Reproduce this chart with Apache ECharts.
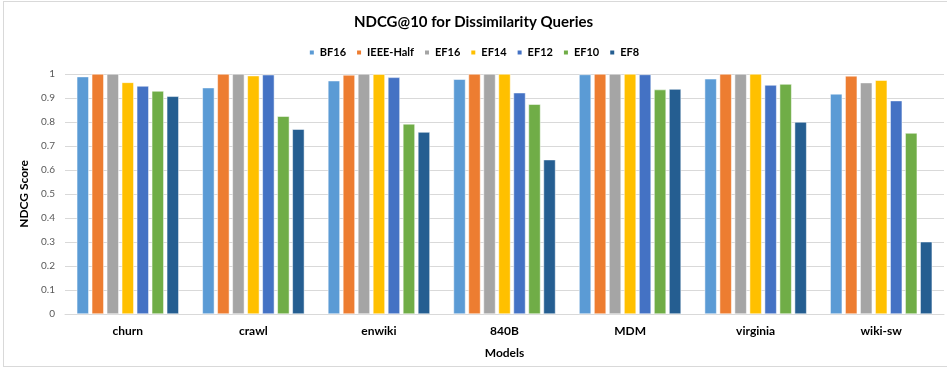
<!DOCTYPE html>
<html>
<head>
<meta charset="utf-8">
<script src="https://cdn.jsdelivr.net/npm/echarts@6/dist/echarts.min.js"></script>
<style>
  html, body { margin: 0; padding: 0; background: #fff; }
  #frame { position: absolute; left: 3px; top: 1px; width: 960px; height: 366px; border: 1px solid #d9d9d9; box-sizing: border-box; }
  #chart { position: absolute; left: 0; top: 0; width: 947px; height: 372px; }
</style>
</head>
<body>
<div id="frame"></div>
<div id="chart"></div>
<script>
const models = ['churn', 'crawl', 'enwiki', '840B', 'MDM', 'virginia', 'wiki-sw'];

const bf16     = [0.989, 0.943, 0.972, 0.978, 0.998, 0.980, 0.917];
const ieeeHalf = [1.000, 1.000, 0.996, 1.000, 1.000, 1.000, 0.992];
const ef16     = [1.000, 1.000, 1.000, 1.000, 1.000, 1.000, 0.964];
const ef14     = [0.965, 0.993, 0.999, 1.000, 1.000, 1.000, 0.974];
const ef12     = [0.950, 0.997, 0.986, 0.922, 0.998, 0.954, 0.889];
const ef10     = [0.929, 0.824, 0.792, 0.874, 0.935, 0.958, 0.754];
const ef8      = [0.907, 0.770, 0.758, 0.643, 0.937, 0.800, 0.301];

const seriesNames = ['BF16', 'IEEE-Half', 'EF16', 'EF14', 'EF12', 'EF10', 'EF8'];
const seriesData = [bf16, ieeeHalf, ef16, ef14, ef12, ef10, ef8];
const colors = ['#5B9BD5', '#ED7D31', '#A5A5A5', '#FFC000', '#4472C4', '#70AD47', '#255E91'];

const font = 'Lato, "Open Sans", sans-serif';

let myChart = echarts.init(document.getElementById('chart'));

const option = {
  animation: false,
  color: colors,
  title: {
    text: 'NDCG@10 for Dissimilarity Queries',
    left: 'center',
    top: 10,
    textStyle: { fontFamily: font, fontSize: 15, fontWeight: 'bold', color: '#000' }
  },
  legend: {
    data: seriesNames,
    top: 42,
    left: 'center',
    icon: 'rect',
    itemWidth: 6,
    itemHeight: 6,
    itemGap: 9,
    textStyle: { fontFamily: font, fontSize: 11, fontWeight: 'bold', color: '#000' }
  },
  grid: { left: 65, right: 3, top: 74, bottom: 58 },
  xAxis: {
    type: 'category',
    data: models,
    name: 'Models',
    nameLocation: 'middle',
    nameGap: 33,
    nameTextStyle: { fontFamily: font, fontSize: 12, fontWeight: 'bold', color: '#000' },
    axisLine: { lineStyle: { color: '#d9d9d9' } },
    axisTick: { show: false },
    axisLabel: { fontFamily: font, fontSize: 12, fontWeight: 'bold', color: '#000', margin: 11 }
  },
  yAxis: {
    type: 'value',
    min: 0,
    max: 1,
    interval: 0.1,
    name: 'NDCG Score',
    nameLocation: 'middle',
    nameGap: 31,
    nameTextStyle: { fontFamily: font, fontSize: 12, fontWeight: 'bold', color: '#000' },
    axisLine: { show: false },
    axisTick: { show: false },
    splitLine: { lineStyle: { color: '#d9d9d9' } },
    axisLabel: { fontFamily: font, fontSize: 10, color: '#595959', margin: 10 }
  },
  series: seriesNames.map((name, i) => ({
    name: name,
    type: 'bar',
    data: seriesData[i],
    barWidth: 12,
    barGap: '25%',
    itemStyle: { borderColor: '#fff', borderWidth: 0.5 }
  }))
};

myChart.setOption(option);
</script>
</body>
</html>
